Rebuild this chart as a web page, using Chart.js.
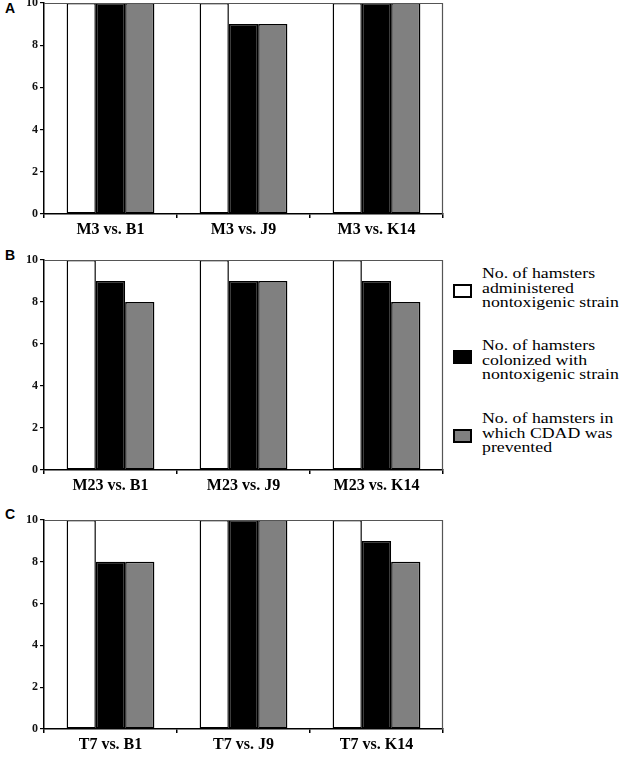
<!DOCTYPE html>
<html>
<head>
<meta charset="utf-8">
<script src="https://cdn.jsdelivr.net/npm/chart.js@4"></script>
<style>
  body { margin: 0; background: #fff; width: 624px; height: 761px; position: relative; overflow: hidden; }
  canvas { position: absolute; left: 0; }
  .letter { position: absolute; left: 5px; font: bold 14px "Liberation Sans", Arial, sans-serif; }
  .legend { position: absolute; left: 453px; font: 14px "Liberation Serif", "Times New Roman", serif; color: #000; }
  .legend .sw { position: absolute; left: 0; width: 15px; height: 10px; border: 2px solid #000; }
  .legend .txt { position: absolute; left: 29px; line-height: 14.5px; white-space: nowrap; transform: scaleX(1.27); transform-origin: 0 0; }
</style>
</head>
<body>
<div class="letter" style="top:0px">A</div>
<div class="letter" style="top:247px">B</div>
<div class="letter" style="top:506px">C</div>
<canvas id="chartA" width="446" height="250" style="top:-10px"></canvas>
<canvas id="chartB" width="446" height="249" style="top:247px"></canvas>
<canvas id="chartC" width="446" height="248" style="top:507px"></canvas>

<div class="legend" style="top:0">
  <div class="sw" style="top:284px;background:#fff"></div>
  <div class="txt" style="top:267px">No. of hamsters<br>administered<br>nontoxigenic strain</div>
  <div class="sw" style="top:350px;background:#000"></div>
  <div class="txt" style="top:339px">No. of hamsters<br>colonized with<br>nontoxigenic strain</div>
  <div class="sw" style="top:429px;background:#808080"></div>
  <div class="txt" style="top:412px">No. of hamsters in<br>which CDAD was<br>prevented</div>
</div>

<script>
const labelsA = ['M3 vs. B1', 'M3 vs. J9', 'M3 vs. K14'];
const labelsB = ['M23 vs. B1', 'M23 vs. J9', 'M23 vs. K14'];
const labelsC = ['T7 vs. B1', 'T7 vs. J9', 'T7 vs. K14'];

const administeredA = [10, 10, 10];
const colonizedA = [10, 9, 10];
const preventedA = [10, 9, 10];

const administeredB = [10, 10, 10];
const colonizedB = [9, 9, 9];
const preventedB = [8, 9, 8];

const administeredC = [10, 10, 10];
const colonizedC = [8, 10, 9];
const preventedC = [8, 10, 8];

const yTicks = [0, 2, 4, 6, 8, 10];

const seriesNames = [
    'No. of hamsters administered nontoxigenic strain',
    'No. of hamsters colonized with nontoxigenic strain',
    'No. of hamsters in which CDAD was prevented'
];
const seriesColors = ['#ffffff', '#000000', '#808080'];

// box around the plot area (top and right edges)
const frameBox = {
    id: 'frameBox',
    afterDraw(chart) {
        const a = chart.chartArea;
        const ctx = chart.ctx;
        ctx.save();
        ctx.strokeStyle = '#555';
        ctx.lineWidth = 1.2;
        ctx.beginPath();
        ctx.moveTo(a.left, a.top + 0.5);
        ctx.lineTo(a.right - 0.5, a.top + 0.5);
        ctx.lineTo(a.right - 0.5, a.bottom);
        ctx.stroke();
        ctx.restore();
    }
};

function makePanel(id, labels, administered, colonized, prevented) {
    const values = [administered, colonized, prevented];
    const datasets = values.map((v, i) => ({
        label: seriesNames[i],
        data: v,
        backgroundColor: seriesColors[i],
        borderColor: '#000',
        borderWidth: 1.5,
        borderSkipped: false,
        categoryPercentage: 0.66,
        barPercentage: 1.0
    }));

    const ctx = document.getElementById(id).getContext('2d');
    return new Chart(ctx, {
        type: 'bar',
        data: { labels: labels, datasets: datasets },
        plugins: [frameBox],
        options: {
            responsive: false,
            animation: false,
            layout: { padding: { top: 13, right: 3, left: 0, bottom: 0 } },
            plugins: { legend: { display: false }, tooltip: { enabled: false } },
            scales: {
                x: {
                    grid: { display: true, drawOnChartArea: false, drawTicks: true, tickLength: 4, color: '#000', lineWidth: 1.5 },
                    border: { display: true, color: '#000', width: 1.5 },
                    ticks: {
                        color: '#000',
                        padding: 2,
                        font: { family: '"Liberation Serif", "Times New Roman", serif', size: 16, weight: 'bold' }
                    },
                    afterFit(scale) { scale.height = 26; }
                },
                y: {
                    min: 0,
                    max: 10,
                    afterBuildTicks(scale) { scale.ticks = yTicks.map(v => ({ value: v })); },
                    grid: { display: true, drawOnChartArea: false, drawTicks: true, tickLength: 4, color: '#000', lineWidth: 1.2 },
                    border: { display: true, color: '#000', width: 1.5 },
                    ticks: {
                        color: '#111',
                        padding: 2,
                        font: { family: '"Liberation Serif", "Times New Roman", serif', size: 12, weight: 'bold' }
                    },
                    afterFit(scale) { scale.width = 44; }
                }
            }
        }
    });
}

makePanel('chartA', labelsA, administeredA, colonizedA, preventedA);
makePanel('chartB', labelsB, administeredB, colonizedB, preventedB);
makePanel('chartC', labelsC, administeredC, colonizedC, preventedC);
</script>
</body>
</html>
